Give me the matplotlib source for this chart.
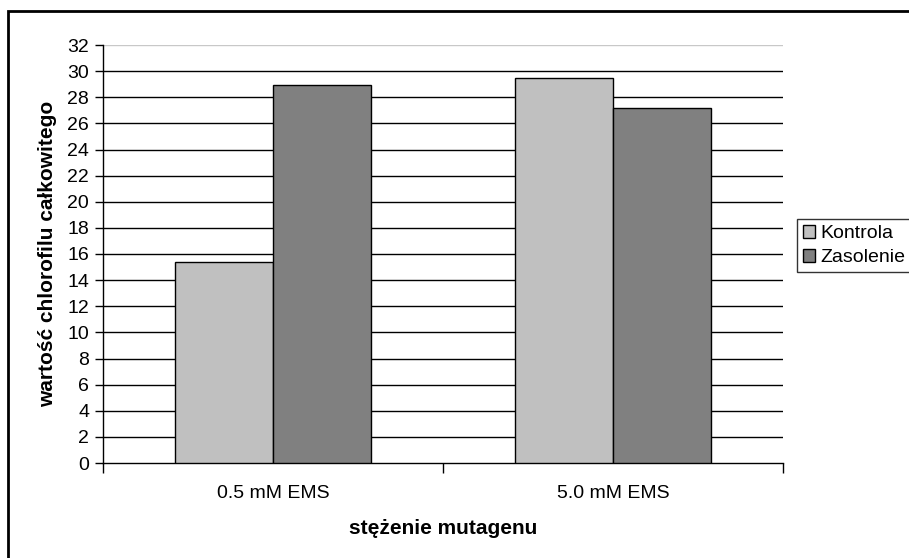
import matplotlib.pyplot as plt
from matplotlib.patches import Rectangle
import numpy as np

plt.rcParams["font.family"] = ["Liberation Sans", "DejaVu Sans"]

categories = ['0.5 mM EMS', '5.0 mM EMS']
kontrola = [15.4, 29.5]
zasolenie = [28.9, 27.2]
series_names = ['Kontrola', 'Zasolenie']
yticks = list(range(0, 33, 2))

W, H = 909, 558
fs = 14
fig = plt.figure(figsize=(W / 100, H / 100), dpi=100)

# plot area in pixels: x 103..783, y 45..463
ax = fig.add_axes([103 / W, 1 - 463 / H, 680 / W, 418 / H])

x = np.arange(len(categories))
bw = 98 / 340
ax.bar(x - bw / 2, kontrola, bw, color='#c0c0c0', edgecolor='black', linewidth=1, zorder=3, label=series_names[0])
ax.bar(x + bw / 2, zasolenie, bw, color='#808080', edgecolor='black', linewidth=1, zorder=3, label=series_names[1])

ax.set_xlim(-0.5, 1.5)
ax.set_ylim(0, 32)
ax.set_yticks(yticks)
for t in yticks[1:-1]:
    ax.axhline(t, color='black', linewidth=1, zorder=1)
ax.axhline(32, color='#c8c8c8', linewidth=1, zorder=1)

for s in ['top', 'right']:
    ax.spines[s].set_visible(False)
ax.spines['left'].set_linewidth(1)
ax.spines['bottom'].set_linewidth(1)

ax.set_xticks([-0.5, 0.5, 1.5])
ax.set_xticklabels([])
ax.set_xticks(x, minor=True)
ax.set_xticklabels(categories, minor=True, fontsize=fs)
ax.tick_params(axis='x', which='major', direction='out', length=7, width=1)
ax.tick_params(axis='x', which='minor', length=0, pad=16)
ax.tick_params(axis='y', direction='out', length=6, width=1, labelsize=fs, pad=4)

ax.set_xlabel('stężenie mutagenu', fontsize=15, fontweight='bold', labelpad=12)
ax.set_ylabel('wartość chlorofilu całkowitego', fontsize=15, fontweight='bold', labelpad=7)

leg = ax.legend(loc='upper left', bbox_to_anchor=(797 / W, 1 - 219 / H), bbox_transform=fig.transFigure,
                fontsize=fs, frameon=True, fancybox=False, edgecolor='black', handlelength=0.65,
                handleheight=0.65, handletextpad=0.25, borderpad=0.3, labelspacing=0.35, borderaxespad=0)
leg.get_frame().set_linewidth(1)

# outer chart frame, running past the right and bottom edges
fig.patches.append(Rectangle((8 / W, -0.1), 1.2, 1 - 11 / H + 0.1, transform=fig.transFigure,
                             fill=False, edgecolor='black', linewidth=2))

fig.savefig('out.png', dpi=100)
